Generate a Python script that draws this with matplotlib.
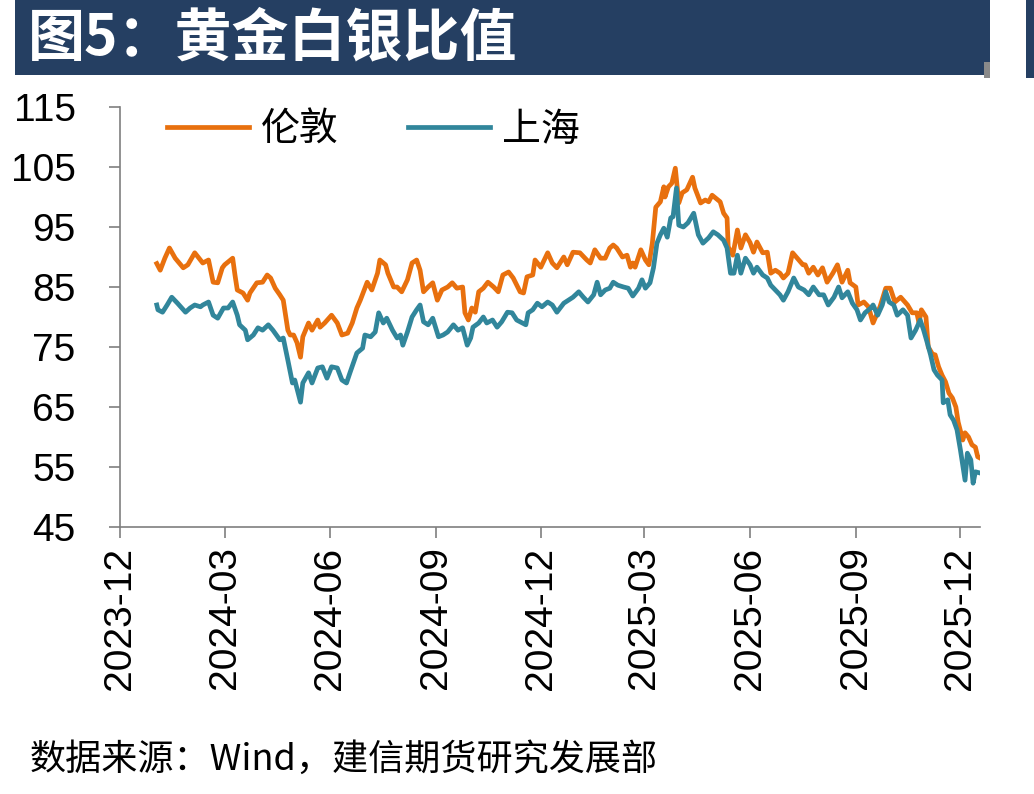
import matplotlib
matplotlib.use("Agg")
import matplotlib.pyplot as plt
import matplotlib.dates as mdates
from matplotlib.patches import Rectangle
import pandas as pd

plt.rcParams['font.family'] = ['Noto Sans CJK SC', 'DejaVu Sans']

title = "图5：黄金白银比值"
source = "数据来源：Wind，建信期货研究发展部"
series_names = ["伦敦", "上海"]

london_dates = [
    "2024-01-02", "2024-01-05", "2024-01-09", "2024-01-13", "2024-01-18", "2024-01-25", "2024-01-29",
    "2024-02-04", "2024-02-09", "2024-02-11", "2024-02-16", "2024-02-20", "2024-02-24", "2024-02-28",
    "2024-03-01", "2024-03-08", "2024-03-10", "2024-03-12", "2024-03-17", "2024-03-21", "2024-03-23",
    "2024-03-29", "2024-04-03", "2024-04-07", "2024-04-10", "2024-04-14", "2024-04-18", "2024-04-21",
    "2024-04-25", "2024-04-27", "2024-04-30", "2024-05-03", "2024-05-06", "2024-05-08", "2024-05-13",
    "2024-05-16", "2024-05-21", "2024-05-23", "2024-05-27", "2024-06-02", "2024-06-07", "2024-06-11",
    "2024-06-16", "2024-06-20", "2024-06-24", "2024-06-27", "2024-07-03", "2024-07-07", "2024-07-12",
    "2024-07-14", "2024-07-19", "2024-07-21", "2024-07-26", "2024-07-29", "2024-08-02", "2024-08-07",
    "2024-08-11", "2024-08-15", "2024-08-18", "2024-08-21", "2024-08-25", "2024-08-29", "2024-09-02",
    "2024-09-06", "2024-09-11", "2024-09-15", "2024-09-19", "2024-09-24", "2024-09-26", "2024-09-29",
    "2024-10-02", "2024-10-05", "2024-10-08", "2024-10-12", "2024-10-16", "2024-10-21", "2024-10-25",
    "2024-10-29", "2024-11-03", "2024-11-07", "2024-11-13", "2024-11-16", "2024-11-19", "2024-11-24",
    "2024-11-26", "2024-12-01", "2024-12-07", "2024-12-11", "2024-12-15", "2024-12-21", "2024-12-24",
    "2024-12-29", "2025-01-04", "2025-01-10", "2025-01-13", "2025-01-17", "2025-01-22", "2025-01-26",
    "2025-01-30", "2025-02-02", "2025-02-05", "2025-02-10", "2025-02-14", "2025-02-17", "2025-02-19",
    "2025-02-21", "2025-02-26", "2025-03-02", "2025-03-05", "2025-03-08", "2025-03-11", "2025-03-15",
    "2025-03-18", "2025-03-19", "2025-03-22", "2025-03-25", "2025-03-28", "2025-03-31", "2025-04-03",
    "2025-04-07", "2025-04-12", "2025-04-14", "2025-04-19", "2025-04-23", "2025-04-26", "2025-04-29",
    "2025-05-04", "2025-05-06", "2025-05-09", "2025-05-12", "2025-05-13", "2025-05-17", "2025-05-21",
    "2025-05-24", "2025-05-28", "2025-06-01", "2025-06-04", "2025-06-07", "2025-06-12", "2025-06-16",
    "2025-06-19", "2025-06-23", "2025-06-27", "2025-06-30", "2025-07-04", "2025-07-08", "2025-07-12",
    "2025-07-17", "2025-07-19", "2025-07-22", "2025-07-26", "2025-07-30", "2025-08-03", "2025-08-07",
    "2025-08-12", "2025-08-16", "2025-08-20", "2025-08-25", "2025-08-27", "2025-09-01", "2025-09-03",
    "2025-09-08", "2025-09-12", "2025-09-16", "2025-09-22", "2025-09-27", "2025-10-01", "2025-10-05",
    "2025-10-10", "2025-10-16", "2025-10-20", "2025-10-24", "2025-10-26", "2025-10-28", "2025-11-01",
    "2025-11-03", "2025-11-07", "2025-11-09", "2025-11-12", "2025-11-15", "2025-11-18", "2025-11-21",
    "2025-11-24", "2025-11-27", "2025-11-29", "2025-12-03", "2025-12-05", "2025-12-08", "2025-12-11",
    "2025-12-14", "2025-12-16", "2025-12-18",
]
london_values = [
    88.9, 87.8, 89.8, 91.5, 89.8, 88.2, 88.7,
    90.7, 89.5, 89.0, 89.5, 85.8, 85.7, 88.2,
    88.7, 89.8, 87.0, 84.5, 84.0, 82.8, 84.0,
    85.7, 85.8, 87.0, 86.5, 84.8, 83.7, 82.8,
    77.8, 77.0, 77.0, 75.7, 73.3, 76.7, 79.0,
    77.8, 79.5, 78.3, 79.0, 80.3, 79.0, 77.0,
    77.3, 79.0, 81.5, 82.8, 85.8, 84.5, 87.3,
    89.5, 88.7, 87.3, 85.0, 85.0, 84.2, 86.2,
    89.0, 89.5, 87.8, 84.2, 85.0, 85.7, 82.8,
    84.5, 85.0, 85.7, 84.8, 85.0, 80.7, 79.5,
    81.5, 80.8, 84.2, 84.8, 85.8, 85.0, 84.2,
    87.0, 87.5, 86.5, 84.2, 84.0, 86.7, 87.0,
    89.5, 88.3, 90.7, 89.0, 88.2, 90.0, 88.7,
    90.8, 90.7, 89.5, 89.0, 91.2, 89.8, 89.8,
    91.5, 92.0, 91.5, 90.0, 90.3, 88.3, 89.0,
    88.3, 91.2, 89.5, 88.7, 92.3, 98.3, 99.2,
    101.7, 100.0, 101.7, 102.3, 104.8, 99.0, 100.7,
    101.2, 103.3, 101.5, 99.0, 99.5, 99.2, 100.3,
    99.5, 99.2, 97.3, 96.5, 91.7, 90.3, 94.5,
    91.5, 93.7, 92.4, 90.8, 92.5, 90.7, 90.8,
    87.3, 87.8, 87.3, 86.5, 87.3, 90.7, 89.8,
    88.7, 88.7, 87.3, 88.3, 87.0, 88.2, 85.8,
    87.3, 88.7, 85.8, 87.8, 85.7, 85.0, 82.0,
    82.5, 81.7, 79.0, 81.7, 84.8, 84.8, 82.5,
    83.3, 82.0, 80.7, 80.7, 79.0, 81.2, 80.0,
    75.0, 73.7, 73.7, 71.7, 70.3, 69.2, 67.3,
    66.5, 65.0, 62.5, 59.5, 60.7, 60.0, 58.7,
    58.3, 56.7, 56.5,
]

shanghai_dates = [
    "2024-01-02", "2024-01-03", "2024-01-07", "2024-01-11", "2024-01-15", "2024-01-20", "2024-01-27",
    "2024-01-31", "2024-02-04", "2024-02-09", "2024-02-11", "2024-02-16", "2024-02-20", "2024-02-24",
    "2024-02-29", "2024-03-04", "2024-03-08", "2024-03-12", "2024-03-14", "2024-03-19", "2024-03-21",
    "2024-03-26", "2024-03-30", "2024-04-03", "2024-04-08", "2024-04-12", "2024-04-18", "2024-04-21",
    "2024-04-25", "2024-04-29", "2024-05-01", "2024-05-06", "2024-05-08", "2024-05-13", "2024-05-16",
    "2024-05-21", "2024-05-25", "2024-05-29", "2024-06-02", "2024-06-07", "2024-06-11", "2024-06-15",
    "2024-06-18", "2024-06-24", "2024-06-29", "2024-07-01", "2024-07-06", "2024-07-10", "2024-07-13",
    "2024-07-17", "2024-07-20", "2024-07-25", "2024-07-29", "2024-08-01", "2024-08-03", "2024-08-07",
    "2024-08-11", "2024-08-15", "2024-08-18", "2024-08-21", "2024-08-25", "2024-08-29", "2024-09-03",
    "2024-09-07", "2024-09-11", "2024-09-16", "2024-09-20", "2024-09-24", "2024-09-28", "2024-10-01",
    "2024-10-03", "2024-10-08", "2024-10-12", "2024-10-15", "2024-10-20", "2024-10-24", "2024-10-28",
    "2024-11-02", "2024-11-06", "2024-11-10", "2024-11-13", "2024-11-18", "2024-11-20", "2024-11-24",
    "2024-11-28", "2024-12-02", "2024-12-07", "2024-12-11", "2024-12-15", "2024-12-21", "2024-12-25",
    "2024-12-29", "2025-01-03", "2025-01-07", "2025-01-11", "2025-01-16", "2025-01-19", "2025-01-22",
    "2025-01-26", "2025-01-30", "2025-02-02", "2025-02-06", "2025-02-11", "2025-02-15", "2025-02-19",
    "2025-02-24", "2025-02-27", "2025-03-02", "2025-03-06", "2025-03-09", "2025-03-12", "2025-03-15",
    "2025-03-18", "2025-03-21", "2025-03-24", "2025-03-26", "2025-03-29", "2025-03-31", "2025-04-04",
    "2025-04-08", "2025-04-13", "2025-04-17", "2025-04-21", "2025-04-26", "2025-04-30", "2025-05-04",
    "2025-05-09", "2025-05-12", "2025-05-15", "2025-05-18", "2025-05-21", "2025-05-24", "2025-05-28",
    "2025-06-01", "2025-06-04", "2025-06-07", "2025-06-12", "2025-06-16", "2025-06-19", "2025-06-23",
    "2025-06-27", "2025-06-30", "2025-07-04", "2025-07-09", "2025-07-13", "2025-07-18", "2025-07-22",
    "2025-07-26", "2025-07-31", "2025-08-04", "2025-08-08", "2025-08-13", "2025-08-17", "2025-08-20",
    "2025-08-25", "2025-08-29", "2025-09-02", "2025-09-05", "2025-09-09", "2025-09-14", "2025-09-16",
    "2025-09-20", "2025-09-24", "2025-09-27", "2025-09-30", "2025-10-04", "2025-10-07", "2025-10-12",
    "2025-10-16", "2025-10-19", "2025-10-23", "2025-10-27", "2025-10-30", "2025-11-02", "2025-11-05",
    "2025-11-08", "2025-11-11", "2025-11-15", "2025-11-16", "2025-11-20", "2025-11-22", "2025-11-25",
    "2025-11-28", "2025-12-01", "2025-12-05", "2025-12-07", "2025-12-10", "2025-12-12", "2025-12-14",
    "2025-12-18",
]
shanghai_values = [
    82.0, 81.2, 80.8, 82.0, 83.3, 82.3, 80.8,
    81.5, 82.0, 81.7, 82.0, 82.5, 80.3, 79.8,
    81.5, 81.5, 82.5, 80.3, 78.7, 77.8, 76.2,
    77.0, 78.2, 77.8, 78.7, 77.8, 76.2, 76.5,
    72.8, 69.0, 69.5, 65.8, 69.0, 70.7, 69.0,
    71.5, 71.7, 69.8, 71.7, 71.5, 69.5, 69.0,
    70.7, 74.0, 74.8, 77.0, 76.7, 77.5, 80.7,
    79.0, 79.8, 77.8, 76.5, 77.0, 75.3, 77.5,
    80.0, 81.2, 82.0, 79.2, 78.7, 79.8, 76.7,
    77.0, 77.5, 78.7, 77.8, 78.2, 75.3, 76.5,
    78.3, 79.0, 80.0, 79.0, 79.5, 78.3, 79.2,
    80.8, 80.7, 79.5, 79.2, 78.7, 80.7, 81.2,
    82.3, 81.7, 82.5, 82.0, 80.8, 82.3, 82.8,
    83.3, 84.2, 83.3, 82.5, 83.7, 85.8, 83.7,
    84.5, 84.8, 85.8, 85.3, 85.0, 84.8, 83.5,
    84.8, 86.2, 84.8, 85.7, 88.2, 92.3, 93.7,
    94.8, 93.3, 96.5, 96.7, 101.5, 95.3, 95.0,
    95.7, 97.3, 93.7, 92.3, 93.2, 94.2, 93.7,
    92.8, 91.5, 87.3, 87.3, 90.3, 87.3, 89.8,
    88.7, 87.3, 88.3, 87.0, 86.5, 85.3, 84.5,
    83.7, 82.8, 84.2, 86.5, 85.0, 84.5, 83.7,
    85.0, 83.7, 83.7, 82.0, 83.3, 85.0, 83.2,
    84.2, 82.3, 81.2, 79.5, 80.7, 81.5, 82.0,
    80.3, 82.0, 84.2, 82.5, 82.0, 80.3, 81.2,
    80.3, 76.5, 77.8, 79.5, 77.8, 75.8, 73.7,
    71.2, 70.3, 69.5, 65.7, 66.2, 63.7, 62.8,
    61.2, 57.8, 52.8, 57.3, 56.2, 52.3, 54.2,
    54.0,
]

y_ticks = [45, 55, 65, 75, 85, 95, 105, 115]
x_tick_dates = ["2023-12-01", "2024-03-01", "2024-06-01", "2024-09-01", "2024-12-01",
                "2025-03-01", "2025-06-01", "2025-09-01", "2025-12-01"]

W, H = 1034, 794
fig = plt.figure(figsize=(W / 100, H / 100), dpi=100)
fig.patch.set_facecolor("white")

# header bar
fig.patches.append(Rectangle((15 / W, 1 - 75 / H), (990 - 15) / W, 75 / H,
                             transform=fig.transFigure, facecolor="#253F62",
                             edgecolor="none", zorder=0))
fig.patches.append(Rectangle((984 / W, 1 - 78 / H), 6 / W, 16 / H,
                             transform=fig.transFigure, facecolor="#8A8A8A",
                             edgecolor="none", zorder=0))
fig.patches.append(Rectangle((1026 / W, 1 - 78 / H), 8 / W, 78 / H,
                             transform=fig.transFigure, facecolor="#253F62",
                             edgecolor="none", zorder=0))
fig.text(28 / W, 1 - 38 / H, title, color="white", fontsize=41, fontweight="bold",
         va="center", ha="left")

ax = fig.add_axes([120 / W, 1 - 527 / H, (980 - 120) / W, (527 - 107) / H])

ld = pd.to_datetime(london_dates)
sd = pd.to_datetime(shanghai_dates)
ax.plot(ld, london_values, color="#E8700E", lw=3.4, label=series_names[0], solid_joinstyle="round")
ax.plot(sd, shanghai_values, color="#31869B", lw=3.4, label=series_names[1], solid_joinstyle="round")

ax.set_ylim(45, 115)
ax.set_yticks(y_ticks)
ax.set_xlim(pd.Timestamp("2023-12-01"), pd.Timestamp("2025-12-18"))
ax.set_xticks(pd.to_datetime(x_tick_dates))
ax.xaxis.set_major_formatter(mdates.DateFormatter("%Y-%m"))

for lbl in ax.get_xticklabels():
    lbl.set_rotation(90)
    lbl.set_family(["Liberation Sans", "DejaVu Sans"])
    lbl.set_fontsize(28)
for lbl in ax.get_yticklabels():
    lbl.set_family(["Liberation Sans", "DejaVu Sans"])
    lbl.set_fontsize(28)

for s in ["top", "right"]:
    ax.spines[s].set_visible(False)
for s in ["left", "bottom"]:
    ax.spines[s].set_color("#7F7F7F")
    ax.spines[s].set_linewidth(1.2)
ax.tick_params(axis="both", direction="out", length=8, width=1.2, color="#7F7F7F")
ax.tick_params(axis="y", pad=24)
ax.tick_params(axis="x", pad=6)

leg = ax.legend(loc="center left", bbox_to_anchor=(0.055, 0.945), ncol=2, frameon=False,
                fontsize=28, handlelength=2.1, handletextpad=0.3, columnspacing=1.8,
                borderpad=0, borderaxespad=0)

fig.text(30 / W, 1 - 760 / H, source, fontsize=26, style="italic", color="black",
         va="center", ha="left")

fig.savefig("out.png", dpi=100, facecolor="white")
